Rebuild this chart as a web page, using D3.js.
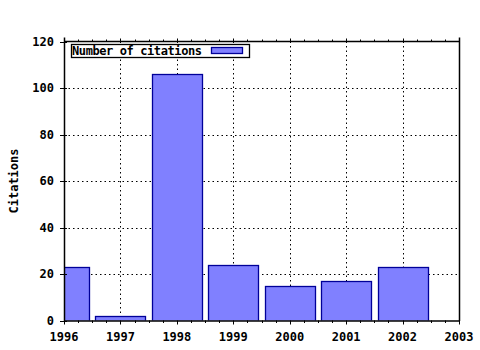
<!DOCTYPE html>
<html>
<head>
<meta charset="utf-8">
<script src="https://cdn.jsdelivr.net/npm/d3@7"></script>
<style>
  body { margin: 0; background: #fff; }
  text { font-family: "DejaVu Sans Mono", monospace; font-weight: bold; font-size: 12px; fill: #000; }
</style>
</head>
<body>
<div id="chart"></div>
<script>
// data
var years = [1996, 1997, 1998, 1999, 2000, 2001, 2002];
var citations = [23, 2, 106, 24, 15, 17, 23];
var yTicks = [0, 20, 40, 60, 80, 100, 120];
var xTicks = [1996, 1997, 1998, 1999, 2000, 2001, 2002, 2003];
var seriesName = "Number of citations";

var W = 480, H = 350;
var plotL = 64, plotR = 459, plotT = 41.5, plotB = 320.5;

var svg = d3.select("#chart").append("svg")
    .attr("width", W)
    .attr("height", H);

var x = d3.scaleLinear().domain([1996, 2003]).range([plotL, plotR]);
var y = d3.scaleLinear().domain([0, 120]).range([plotB, plotT]);
var barW = x(1996 + 0.886) - x(1996);

svg.append("clipPath").attr("id", "plotclip")
  .append("rect")
    .attr("x", plotL).attr("y", plotT - 5)
    .attr("width", plotR - plotL).attr("height", plotB - plotT + 5);

// grid
var grid = svg.append("g")
    .attr("stroke", "#000")
    .attr("stroke-width", 1)
    .attr("stroke-dasharray", "1.5,3");
grid.selectAll(".gy")
  .data(yTicks.slice(1, -1))
  .join("line")
    .attr("x1", plotL).attr("x2", plotR)
    .attr("y1", d => Math.round(y(d)) + 0.5)
    .attr("y2", d => Math.round(y(d)) + 0.5);
grid.selectAll(".gx")
  .data(xTicks.slice(1, -1))
  .join("line")
    .attr("y1", plotT).attr("y2", plotB)
    .attr("x1", d => Math.round(x(d)) + 0.5)
    .attr("x2", d => Math.round(x(d)) + 0.5);

// bars
svg.append("g")
    .attr("clip-path", "url(#plotclip)")
  .selectAll("rect")
  .data(years)
  .join("rect")
    .attr("x", d => Math.round(x(d) - barW / 2) + 0.5)
    .attr("y", (d, i) => Math.round(y(citations[i])) + 0.5)
    .attr("width", Math.round(barW))
    .attr("height", (d, i) => Math.round(y(0)) - Math.round(y(citations[i])))
    .attr("fill", "#8080ff")
    .attr("stroke", "#000099")
    .attr("stroke-width", 1.3);

// frame
var frame = svg.append("g").attr("stroke", "#000").attr("fill", "none");
frame.append("line").attr("x1", plotL + 0.5).attr("x2", plotL + 0.5).attr("y1", plotT - 4).attr("y2", plotB + 0.5).attr("stroke-width", 1.5);
frame.append("line").attr("x1", plotL).attr("x2", plotR).attr("y1", plotB + 0.5).attr("y2", plotB + 0.5).attr("stroke-width", 1.5);
frame.append("line").attr("x1", plotL).attr("x2", plotR).attr("y1", plotT).attr("y2", plotT).attr("stroke-width", 1.5);
frame.append("line").attr("x1", plotR + 0.5).attr("x2", plotR + 0.5).attr("y1", plotT - 4).attr("y2", plotB + 0.5).attr("stroke-width", 1.5);

// x ticks (major + minor on top and bottom)
var minorX = d3.range(0, 28).map(i => 1996 + i / 4).filter(v => v % 1 !== 0);
frame.selectAll(".xmaj")
  .data(xTicks)
  .join("line")
    .attr("x1", d => Math.round(x(d)) + 0.5).attr("x2", d => Math.round(x(d)) + 0.5)
    .attr("y1", plotB).attr("y2", plotB + 4);
frame.selectAll(".xmajt")
  .data(xTicks)
  .join("line")
    .attr("x1", d => Math.round(x(d)) + 0.5).attr("x2", d => Math.round(x(d)) + 0.5)
    .attr("y1", plotT).attr("y2", plotT - 3);
frame.selectAll(".xmin")
  .data(minorX)
  .join("line")
    .attr("x1", d => Math.round(x(d)) + 0.5).attr("x2", d => Math.round(x(d)) + 0.5)
    .attr("y1", plotB).attr("y2", plotB + 2.5);
frame.selectAll(".xmint")
  .data(minorX)
  .join("line")
    .attr("x1", d => Math.round(x(d)) + 0.5).attr("x2", d => Math.round(x(d)) + 0.5)
    .attr("y1", plotT).attr("y2", plotT - 2);

// y ticks
frame.selectAll(".ymaj")
  .data(yTicks)
  .join("line")
    .attr("x1", plotL - 4).attr("x2", plotL + 3)
    .attr("y1", d => Math.round(y(d)) + 0.5)
    .attr("y2", d => Math.round(y(d)) + 0.5);

// tick labels
svg.append("g").selectAll("text")
  .data(yTicks)
  .join("text")
    .attr("x", 54)
    .attr("y", d => y(d) + 4)
    .attr("text-anchor", "end")
    .text(d => d);

svg.append("g").selectAll("text")
  .data(xTicks)
  .join("text")
    .attr("x", d => x(d))
    .attr("y", 341)
    .attr("text-anchor", "middle")
    .text(d => d);

svg.append("text")
    .attr("transform", "translate(18," + ((plotT + plotB) / 2) + ") rotate(-90)")
    .attr("text-anchor", "middle")
    .text("Citations");

// legend
var lg = svg.append("g");
lg.append("rect")
    .attr("x", 71.5).attr("y", 44.5)
    .attr("width", 178).attr("height", 13)
    .attr("fill", "#fff").attr("stroke", "#000").attr("stroke-width", 1.3);
lg.append("text")
    .attr("x", 72).attr("y", 55)
    .attr("textLength", 130)
    .text(seriesName);
lg.append("rect")
    .attr("x", 211.5).attr("y", 47.5)
    .attr("width", 31).attr("height", 6)
    .attr("fill", "#8080ff").attr("stroke", "#000099").attr("stroke-width", 1.3);
</script>
</body>
</html>
